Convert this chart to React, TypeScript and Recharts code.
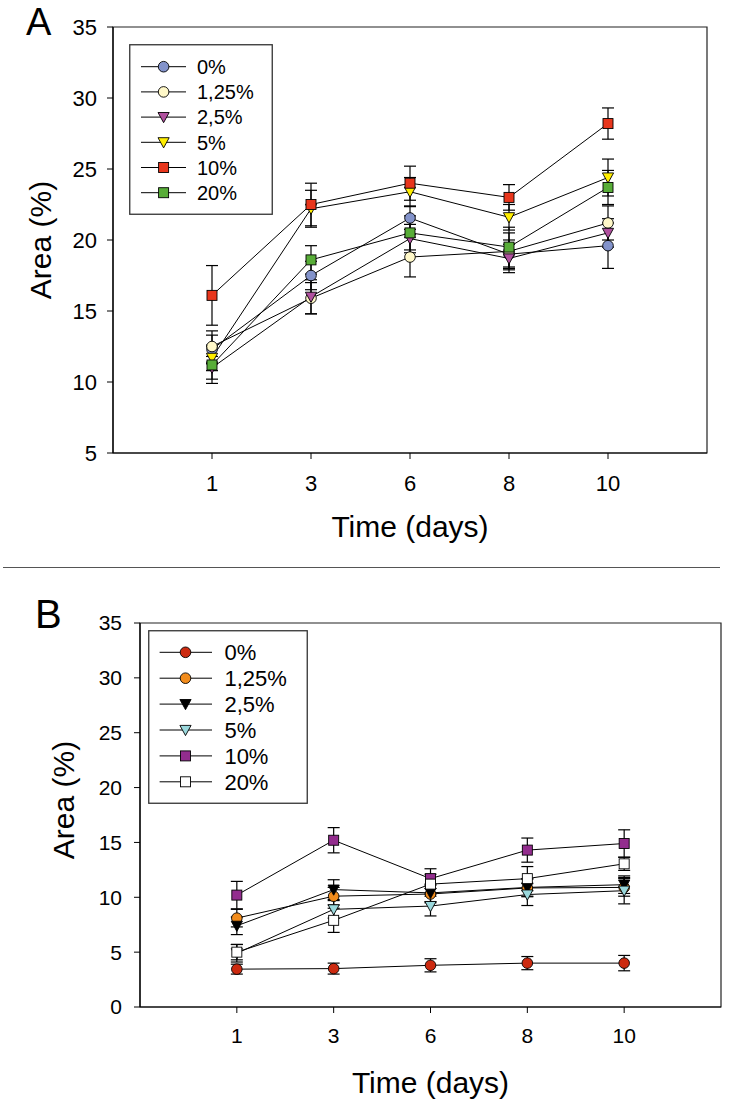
import React from 'react';
import { LineChart, Line, XAxis, YAxis, ErrorBar, ReferenceArea, Legend, Label } from 'recharts';

// ---------- shared ----------
const days = ['1', '3', '6', '8', '10'];
const seriesNames = ['0%', '1,25%', '2,5%', '5%', '10%', '20%'];
const shapes = ['circle', 'circle', 'triangle', 'triangle', 'square', 'square'];

// ---------- panel A ----------
const a0 = [12.3, 17.5, 21.55, 19.0, 19.6];
const a125 = [12.5, 15.9, 18.8, 19.2, 21.2];
const a25 = [11.0, 16.0, 20.1, 18.7, 20.5];
const a5 = [11.7, 22.2, 23.4, 21.6, 24.4];
const a10 = [16.1, 22.5, 24.0, 23.0, 28.2];
const a20 = [11.2, 18.6, 20.5, 19.5, 23.7];

const a0Err = [1.0, 1.0, 0.8, 1.0, 1.6];
const a125Err = [1.1, 1.1, 1.4, 1.3, 1.2];
const a25Err = [0.8, 1.2, 1.0, 1.0, 1.0];
const a5Err = [0.9, 1.3, 1.0, 0.9, 1.3];
const a10Err = [2.1, 1.5, 1.2, 0.9, 1.1];
const a20Err = [1.3, 1.0, 1.2, 1.4, 1.2];

const aColors = ['#8393CB', '#FFF8C8', '#B0509E', '#FFEE00', '#E8361C', '#58AD38'];
const aTicks = [5, 10, 15, 20, 25, 30, 35];

// ---------- panel B ----------
const b0 = [3.45, 3.5, 3.8, 4.0, 4.0];
const b125 = [8.1, 10.1, 10.3, 10.85, 10.9];
const b25 = [7.4, 10.7, 10.4, 10.9, 11.15];
const b5 = [4.9, 8.9, 9.2, 10.25, 10.6];
const b10 = [10.2, 15.2, 11.7, 14.3, 14.9];
const b20 = [5.0, 7.9, 11.2, 11.7, 13.05];

const b0Err = [0.45, 0.5, 0.6, 0.6, 0.7];
const b125Err = [0.8, 0.8, 0.8, 0.8, 0.8];
const b25Err = [0.8, 0.9, 0.8, 0.8, 0.8];
const b5Err = [0.8, 0.8, 0.9, 1.0, 1.2];
const b10Err = [1.25, 1.15, 0.9, 1.1, 1.25];
const b20Err = [0.7, 1.1, 0.9, 1.1, 0.6];

const bColors = ['#CC2A10', '#F28C1C', '#000000', '#9AD8DC', '#932D8E', '#FFFFFF'];
const bTicks = [0, 5, 10, 15, 20, 25, 30, 35];

const aValues = [a0, a125, a25, a5, a10, a20];
const aErrors = [a0Err, a125Err, a25Err, a5Err, a10Err, a20Err];
const bValues = [b0, b125, b25, b5, b10, b20];
const bErrors = [b0Err, b125Err, b25Err, b5Err, b10Err, b20Err];

function buildRows(values: number[][], errors: number[][]) {
  return days.map((d, i) => {
    const row: any = { x: i + 1, day: d };
    values.forEach((s, k) => {
      row['v' + k] = s[i];
      row['e' + k] = errors[k][i];
    });
    return row;
  });
}

const rowsA = buildRows(aValues, aErrors);
const rowsB = buildRows(bValues, bErrors);

const FONT = '"Liberation Sans", Arial, Helvetica, sans-serif';

function drawMarker(shape: string, cx: number, cy: number, fill: string, key?: string, s = 1) {
  if (cx == null || cy == null || isNaN(cx) || isNaN(cy)) return <g key={key} />;
  if (shape === 'circle') {
    return <circle key={key} cx={cx} cy={cy} r={5.3 * s} fill={fill} stroke="#000" strokeWidth={0.9} />;
  }
  if (shape === 'square') {
    const h = 5 * s;
    return <rect key={key} x={cx - h} y={cy - h} width={2 * h} height={2 * h} fill={fill} stroke="#000" strokeWidth={0.9} />;
  }
  const w = 5.6 * s;
  const pts = `${cx - w},${cy - 4.6 * s} ${cx + w},${cy - 4.6 * s} ${cx},${cy + 5.6 * s}`;
  return <polygon key={key} points={pts} fill={fill} stroke="#000" strokeWidth={0.9} />;
}

function makeLegend(colors: string[], cfg: { w: number; h: number; y0: number; dy: number; l1: number; l2: number; m: number; tx: number; fs: number }) {
  return () => (
    <svg width={cfg.w} height={cfg.h} style={{ display: 'block' }}>
      <rect x={0.75} y={0.75} width={cfg.w - 1.5} height={cfg.h - 1.5} fill="#fff" stroke="#333" strokeWidth={1.3} />
      {seriesNames.map((n, i) => {
        const y = cfg.y0 + cfg.dy * i;
        return (
          <g key={n}>
            <line x1={cfg.l1} x2={cfg.l2} y1={y} y2={y} stroke="#000" strokeWidth={1} />
            {drawMarker(shapes[i], cfg.m, y, colors[i])}
            <text x={cfg.tx} y={y + cfg.fs * 0.36} fontSize={cfg.fs} fill="#000" fontFamily={FONT}>
              {n}
            </text>
          </g>
        );
      })}
    </svg>
  );
}

function xTitle(offset: number) {
  return (props: any) => {
    const vb = props.viewBox || {};
    return (
      <text x={vb.x + vb.width / 2} y={vb.y + offset} textAnchor="middle" fontSize={30} fill="#000" fontFamily={FONT}>
        Time (days)
      </text>
    );
  };
}

function yTitle(dist: number, cy: number) {
  return (props: any) => {
    const vb = props.viewBox || {};
    const cx = vb.x + vb.width - dist;
    const fs = 30;
    return (
      <text
        x={cx}
        y={cy + fs * 0.36}
        transform={`rotate(-90, ${cx}, ${cy})`}
        textAnchor="middle"
        fontSize={fs}
        fill="#000"
        fontFamily={FONT}
      >
        Area (%)
      </text>
    );
  };
}

type PanelProps = {
  rows: any[];
  colors: string[];
  width: number;
  height: number;
  margin: { top: number; right: number; bottom: number; left: number };
  yDomain: [number, number];
  yTicks: number[];
  tickFs: number;
  yTickMargin: number;
  xTickMargin: number;
  xTitleOffset: number;
  yTitleDist: number;
  yTitleCy: number;
  legendPos: { left: number; top: number };
  legendCfg: any;
};

function Panel(p: PanelProps) {
  const tickStyle = { fontSize: p.tickFs, fill: '#000', fontFamily: FONT };
  return (
    <LineChart width={p.width} height={p.height} data={p.rows} margin={p.margin}>
      <ReferenceArea
        x1={0}
        x2={6}
        y1={p.yDomain[0]}
        y2={p.yDomain[1]}
        fill="none"
        fillOpacity={0}
        stroke="#222"
        strokeWidth={1.2}
        ifOverflow="visible"
      />
      <XAxis
        dataKey="x"
        type="number"
        domain={[0, 6]}
        ticks={[1, 2, 3, 4, 5]}
        tickFormatter={(v: number) => days[v - 1]}
        allowDecimals={false}
        height={40}
        tickSize={6}
        tickMargin={p.xTickMargin}
        tick={tickStyle}
        axisLine={{ stroke: '#000', strokeWidth: 1.2 }}
        tickLine={{ stroke: '#000', strokeWidth: 1 }}
      >
        <Label content={xTitle(p.xTitleOffset)} />
      </XAxis>
      <YAxis
        type="number"
        domain={p.yDomain}
        ticks={p.yTicks}
        width={60}
        tickSize={6}
        tickMargin={p.yTickMargin}
        tick={tickStyle}
        axisLine={{ stroke: '#000', strokeWidth: 1.2 }}
        tickLine={{ stroke: '#000', strokeWidth: 1 }}
        interval={0}
      >
        <Label content={yTitle(p.yTitleDist, p.yTitleCy)} />
      </YAxis>
      <Legend
        layout="vertical"
        align="center"
        verticalAlign="middle"
        content={makeLegend(p.colors, p.legendCfg)}
        wrapperStyle={{ left: p.legendPos.left, top: p.legendPos.top, width: p.legendCfg.w, height: p.legendCfg.h }}
      />
      {seriesNames.map((n, k) => (
        <Line
          key={n}
          name={n}
          dataKey={'v' + k}
          stroke="#000"
          strokeWidth={1}
          isAnimationActive={false}
          activeDot={false}
          legendType="none"
          dot={(d: any) => drawMarker(shapes[k], d.cx, d.cy, p.colors[k], `m${k}-${d.index}`)}
        >
          <ErrorBar dataKey={'e' + k} direction="y" width={6} stroke="#000" strokeWidth={1.2} isAnimationActive={false} />
        </Line>
      ))}
    </LineChart>
  );
}

export default function App() {
  return (
    <div
      style={{
        position: 'absolute',
        left: 0,
        top: 0,
        width: 750,
        height: 1105,
        background: '#fff',
        fontFamily: FONT,
        overflow: 'hidden',
      }}
    >
      <svg width={750} height={1105} style={{ position: 'absolute', left: 0, top: 0 }}>
        <text x={26} y={35} fontSize={38} fill="#000" fontFamily={FONT}>A</text>
        <line x1={3} x2={720} y1={567.5} y2={567.5} stroke="#555" strokeWidth={1.2} />
        <text x={35} y={628} fontSize={40} fill="#000" fontFamily={FONT}>B</text>
      </svg>
      <div style={{ position: 'absolute', left: 0, top: 0 }}>
        <Panel
          rows={rowsA}
          colors={aColors}
          width={750}
          height={565}
          margin={{ top: 27, right: 43, bottom: 72, left: 53 }}
          yDomain={[5, 35]}
          yTicks={aTicks}
          tickFs={22}
          yTickMargin={10}
          xTickMargin={16}
          xTitleOffset={84}
          yTitleDist={73}
          yTitleCy={240}
          legendPos={{ left: 129, top: 44 }}
          legendCfg={{ w: 144, h: 171, y0: 22.7, dy: 25.2, l1: 12, l2: 57, m: 34.6, tx: 68, fs: 20 }}
        />
      </div>
      <div style={{ position: 'absolute', left: 0, top: 570 }}>
        <Panel
          rows={rowsB}
          colors={bColors}
          width={750}
          height={535}
          margin={{ top: 53, right: 29, bottom: 58, left: 80 }}
          yDomain={[0, 35]}
          yTicks={bTicks}
          tickFs={21}
          yTickMargin={12}
          xTickMargin={15}
          xTitleOffset={86}
          yTitleDist={77}
          yTitleCy={230}
          legendPos={{ left: 148, top: 60 }}
          legendCfg={{ w: 160, h: 174, y0: 22.3, dy: 25.9, l1: 11.6, l2: 64, m: 37.5, tx: 76.4, fs: 22 }}
        />
      </div>
    </div>
  );
}
